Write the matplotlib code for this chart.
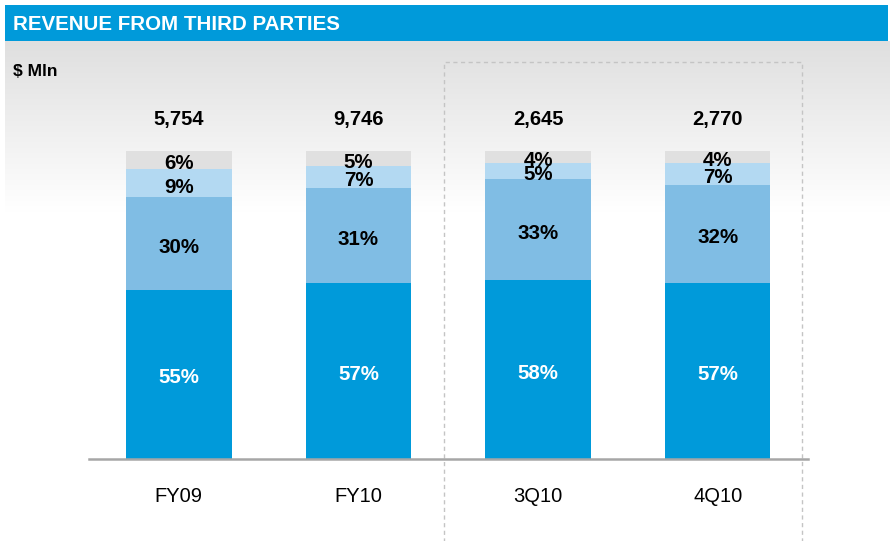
import numpy as np
import matplotlib
matplotlib.use("Agg")
import matplotlib.pyplot as plt
from matplotlib.patches import Rectangle

plt.rcParams['font.family'] = ['Liberation Sans', 'DejaVu Sans']

categories = ["FY09", "FY10", "3Q10", "4Q10"]
totals = ["5,754", "9,746", "2,645", "2,770"]
seg1 = [55, 57, 58, 57]   # dark blue (bottom)
seg2 = [30, 31, 33, 32]   # mid blue
seg3 = [9, 7, 5, 7]       # light blue
seg4 = [6, 5, 4, 4]       # gray (top)

colors = ["#009ADA", "#80BDE4", "#B3D9F2", "#E0E0E0"]
label_colors = ["white", "black", "black", "black"]

W, H = 890, 541
fig = plt.figure(figsize=(W / 100, H / 100), dpi=100)
fig.patch.set_facecolor("white")

# background gradient
bg = fig.add_axes([5 / W, 1 - 212 / H, 885 / W, 171 / H])
grad = np.linspace(0, 1, 256).reshape(-1, 1)
c0 = np.array([0.875, 0.875, 0.875])
c1 = np.array([1.0, 1.0, 1.0])
img = c0[None, None, :] * (1 - grad[:, :, None]) + c1[None, None, :] * grad[:, :, None]
bg.imshow(img, aspect="auto", extent=[0, 1, 0, 1])
bg.axis("off")

# title bar
fig.patches.append(Rectangle((5 / W, 1 - 41 / H), 883 / W, 36 / H,
                             transform=fig.transFigure, facecolor="#009ADA",
                             edgecolor="none", zorder=1))
fig.text(13 / W, 1 - 24 / H, "REVENUE FROM THIRD PARTIES", color="white",
         fontsize=14.8, fontweight="bold", va="center", ha="left")
fig.text(13 / W, 1 - 72 / H, "$ Mln", color="black",
         fontsize=12.5, fontweight="bold", va="center", ha="left")

# main axes
ax = fig.add_axes([89 / W, 1 - 459 / H, 718.5 / W, 308 / H])
ax.patch.set_alpha(0)
x = np.arange(len(categories))
bw = 0.588
segs = [seg1, seg2, seg3, seg4]
bottom = np.zeros(len(categories))
for s, col, lc in zip(segs, colors, label_colors):
    vals = np.array(s, dtype=float)
    ax.bar(x, vals, bw, bottom=bottom, color=col, edgecolor="none", zorder=2)
    for xi, b, v in zip(x, bottom, vals):
        ax.text(xi, b + v / 2 - 1.2, f"{int(v)}%", ha="center", va="center",
                color=lc, fontsize=14.8, fontweight="bold", zorder=4)
    bottom += vals

for xi, t, tot in zip(x, totals, bottom):
    ax.text(xi, tot + 10.3, t, ha="center", va="center", fontsize=14.5,
            fontweight="bold", color="black", clip_on=False)

ax.set_xlim(-0.5, 3.5)
ax.set_ylim(0, 100)
ax.set_xticks(x)
ax.set_xticklabels(categories, fontsize=14.5)
ax.tick_params(axis="x", length=0, pad=20.5)
ax.set_yticks([])
for sp in ["left", "right", "top"]:
    ax.spines[sp].set_visible(False)
ax.spines["bottom"].set_color("#A6A6A6")
ax.spines["bottom"].set_linewidth(1.8)
ax.spines["bottom"].set_zorder(3)

# dashed highlight box around the quarterly bars
ax.add_patch(Rectangle((1.479, -40), 3.468 - 1.479, 128.9 + 40, fill=False,
                       edgecolor="#C4C4C4", linestyle=(0, (3, 2.5)),
                       linewidth=1.0, clip_on=False, zorder=1))

fig.savefig("out.png", dpi=100, facecolor=fig.get_facecolor())
